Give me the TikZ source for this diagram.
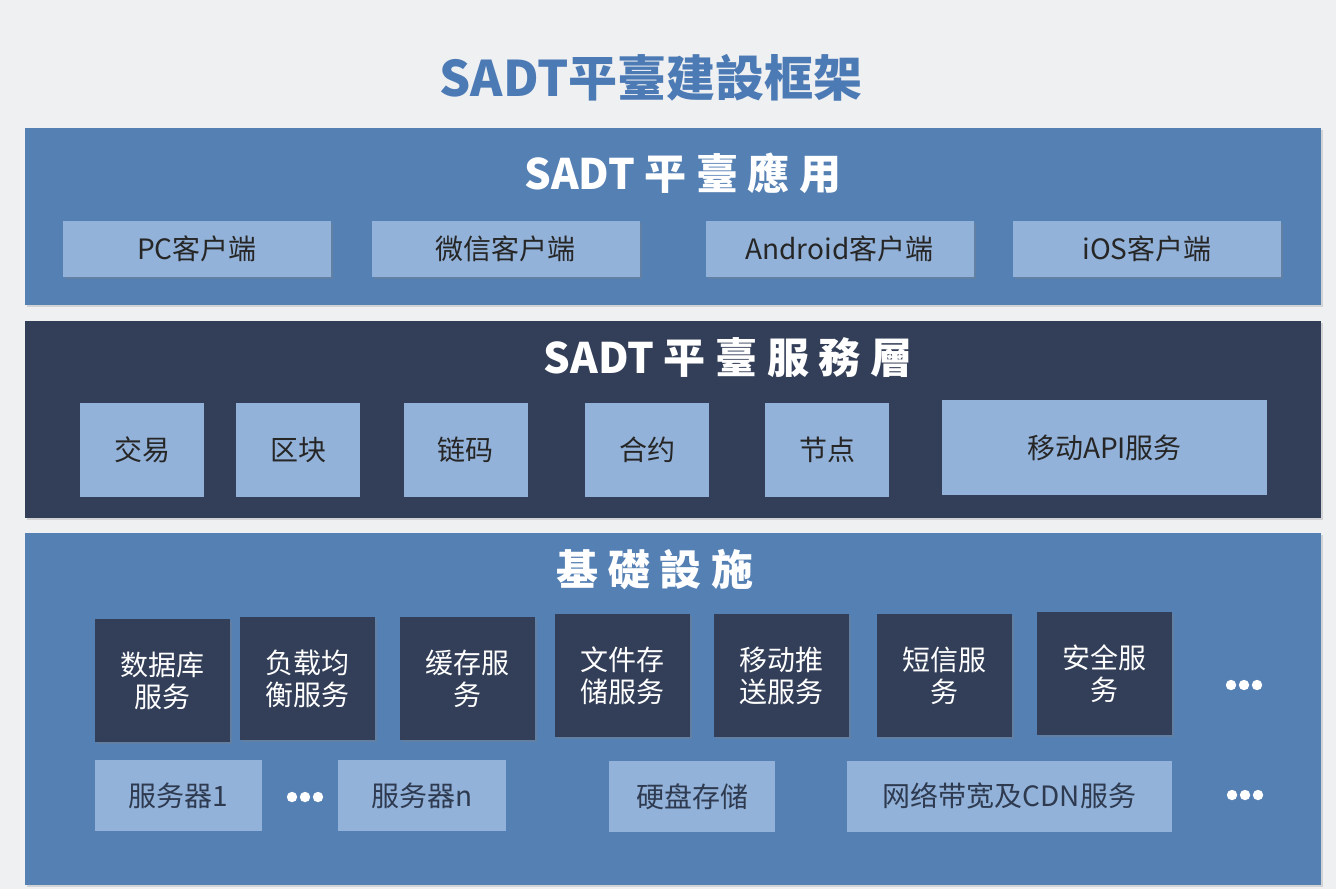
\documentclass[tikz,border=0pt]{standalone}
\usepackage{fontspec}
\setmainfont{Noto Sans CJK SC}
\usepackage{xcolor}
\usetikzlibrary{shadows}
\definecolor{bgray}{HTML}{EEF0F2}
\definecolor{layerblue}{HTML}{5580B4}
\definecolor{layernavy}{HTML}{333F58}
\definecolor{tileblue}{HTML}{93B2D9}
\definecolor{titleblue}{HTML}{4C7AB5}
\definecolor{tiletext}{HTML}{2E3A50}

\begin{document}
\begin{tikzpicture}[x=0.5pt, y=-0.5pt,
            layer/.style={shape=rectangle, draw=none, inner sep=0pt, drop shadow={opacity=0.25, shadow xshift=1pt, shadow yshift=-1pt}},
            layertitle/.style={text=white, font=\bfseries\fontsize{21}{25}\selectfont},
            apptile/.style={shape=rectangle, fill=tileblue, minimum width=134pt, minimum height=28pt, text=black!85, font=\fontsize{14}{17}\selectfont, drop shadow={opacity=0.3, shadow xshift=1pt, shadow yshift=-1.2pt}},
            servtile/.style={shape=rectangle, fill=tileblue, minimum width=62pt, minimum height=47pt, text=black!85, font=\fontsize{14}{17}\selectfont},
            darktile/.style={shape=rectangle, fill=layernavy, minimum width=67.5pt, minimum height=61.5pt, text=white, align=center, font=\fontsize{14}{16}\selectfont, drop shadow={opacity=0.3, shadow xshift=1pt, shadow yshift=-1.2pt}},
            hwtile/.style={shape=rectangle, fill=tileblue, minimum height=35.5pt, text=tiletext, font=\fontsize{14}{17}\selectfont}]
        % background
        \fill[bgray] (0,0) rectangle (1336,889);

        \node[text=titleblue, font=\bfseries\fontsize{24.5}{28}\selectfont] (maintitle) at (651,78) {SADT平臺建設框架};

        % application layer
        \node[layer, fill=layerblue, minimum width=648pt, minimum height=88.5pt] (applayer) at (673,216.5) {};
        \node[layertitle] (apptitle) at (683,173) {SADT 平 臺 應 用};
        \node[apptile] (pc) at (197,249) {PC客户端};
        \node[apptile] (wechat) at (505.5,249) {微信客户端};
        \node[apptile] (android) at (839.5,249) {Android客户端};
        \node[apptile] (ios) at (1147,249) {iOS客户端};

        % service layer
        \node[layer, fill=layernavy, minimum width=648pt, minimum height=98.5pt] (servlayer) at (673,419.5) {};
        \node[layertitle] (servtitle) at (728,358) {SADT 平 臺 服 務 層};
        \node[servtile] (trade) at (142,450) {交易};
        \node[servtile] (block) at (298,450) {区块};
        \node[servtile] (chaincode) at (465.5,450) {链码};
        \node[servtile] (contract) at (647,450) {合约};
        \node[servtile] (peer) at (827,450) {节点};
        \node[servtile, minimum width=162.5pt, minimum height=47.5pt] (mobileapi) at (1104.5,447.5) {移动API服务};

        % infrastructure layer
        \node[layer, fill=layerblue, minimum width=648pt, minimum height=176pt] (infralayer) at (673,709) {};
        \node[layertitle] (infratitle) at (655,570) {基 礎 設 施};
        \node[darktile] (database) at (162,680.5) {数据库\\服务};
        \node[darktile] (loadbal) at (307.5,678.5) {负载均\\衡服务};
        \node[darktile] (cache) at (467.5,678.5) {缓存服\\务};
        \node[darktile] (filestore) at (622.5,675.5) {文件存\\储服务};
        \node[darktile] (push) at (781,675.5) {移动推\\送服务};
        \node[darktile] (sms) at (944.5,675.5) {短信服\\务};
        \node[darktile] (security) at (1104.5,673.5) {安全服\\务};

        \node[hwtile, minimum width=83.5pt] (server1) at (178.5,795.5) {服务器1};
        \node[hwtile, minimum width=84pt] (servern) at (422,795.5) {服务器n};
        \node[hwtile, minimum width=83pt] (disk) at (692,796.5) {硬盘存储};
        \node[hwtile, minimum width=162.5pt] (cdn) at (1009.5,796) {网络带宽及CDN服务};

        \coordinate (moreserv) at (1244,685);
        \coordinate (moreserver) at (305,797);
        \coordinate (morehw) at (1245,795);
        \foreach \c in {moreserv,moreserver,morehw}
            \foreach \dx in {-13,0,13}
                \fill[white] ([xshift=\dx*0.5pt]\c) circle (2.6pt);
    \end{tikzpicture}
\end{document}
